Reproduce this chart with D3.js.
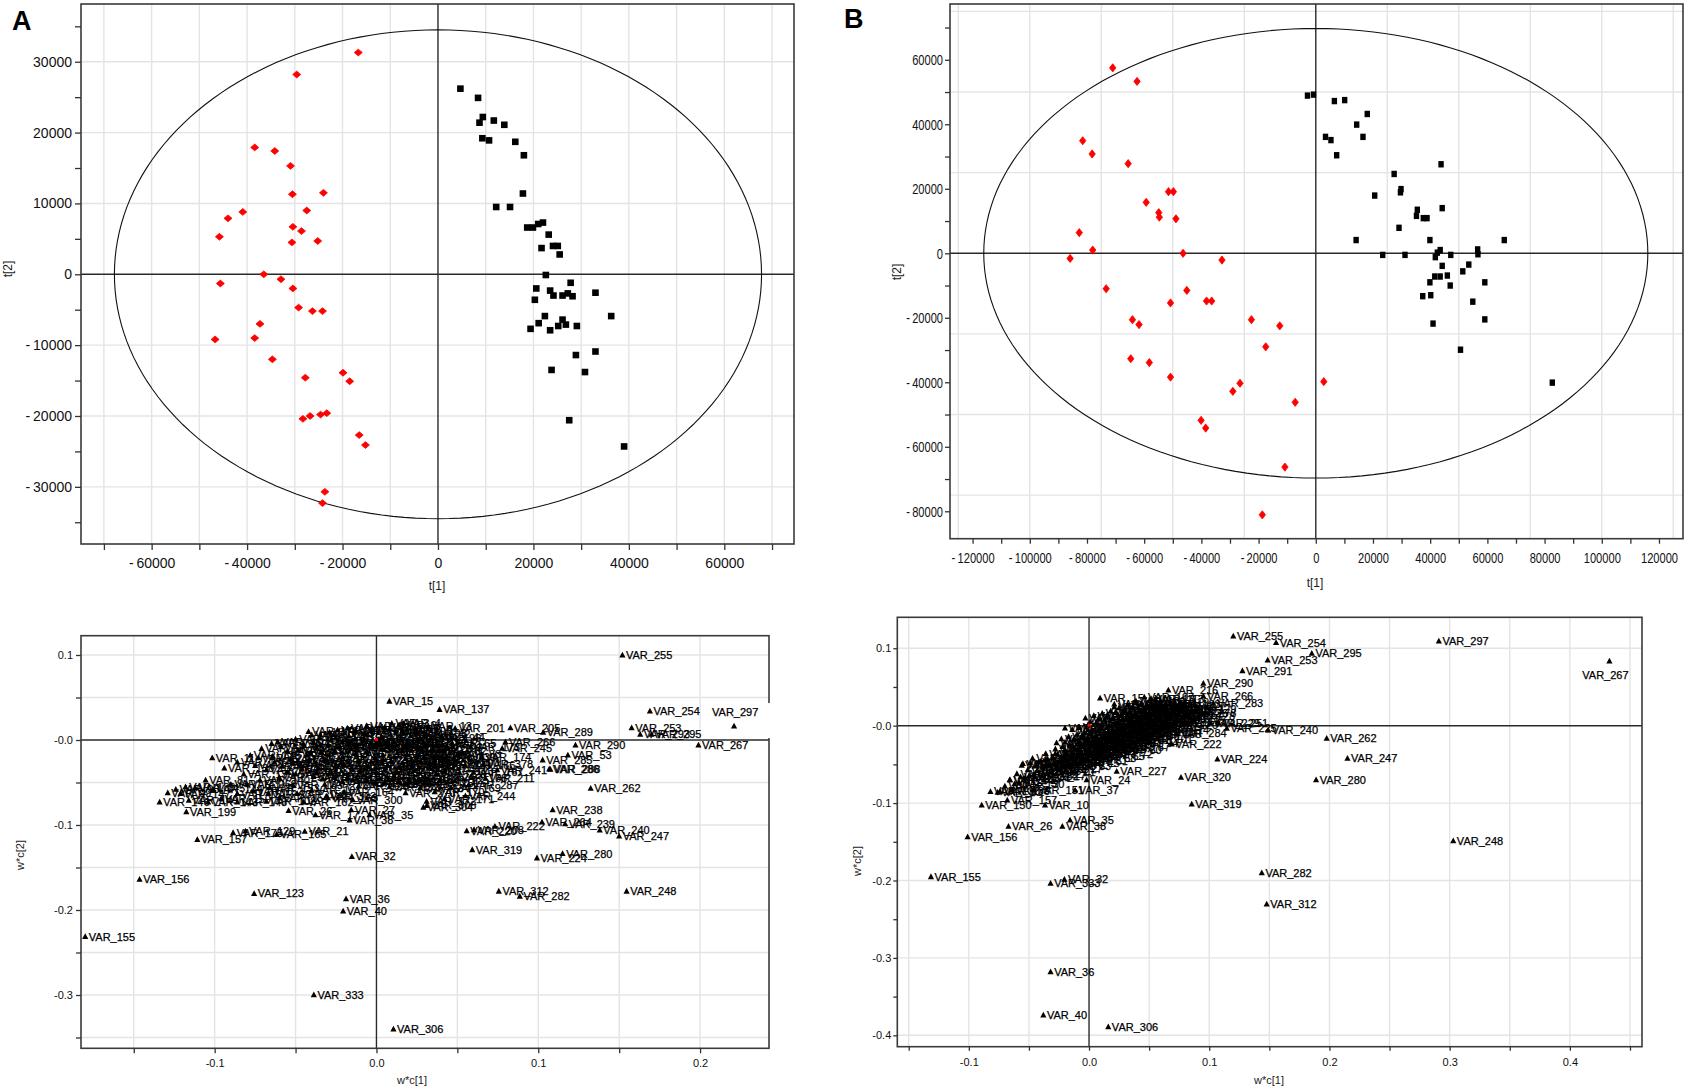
<!DOCTYPE html>
<html><head><meta charset="utf-8">
<script src="https://cdn.jsdelivr.net/npm/d3@7"></script>
<style>
body{margin:0;background:#fff}
svg{display:block}
text{font-family:"Liberation Sans",Arial,Helvetica,sans-serif}
</style>
</head><body>
<svg id="c" width="1687" height="1092"></svg>
<script>
// ---------------- DATA ----------------
// Panel A scores (t[1], t[2])
const scoresA_red = [[-16700,31300],[-29600,28200],[-38400,17900],[-34200,17400],[-30900,15300],[-30500,11300],[-24000,11500],[-40900,8800],[-44000,7900],[-27500,9000],[-30400,6700],[-28600,6100],[-45800,5300],[-30600,4500],[-25200,4700],[-36500,0],[-45600,-1300],[-32900,-700],[-30400,-2000],[-29200,-4700],[-26300,-5200],[-24200,-5200],[-37300,-7000],[-46700,-9200],[-38400,-9000],[-34700,-12000],[-27800,-14600],[-19900,-13900],[-18500,-15100],[-28300,-20400],[-26800,-20000],[-24600,-19800],[-23300,-19600],[-16500,-22700],[-15200,-24100],[-23700,-30700],[-24200,-32300]];
const scoresA_black = [[4700,26200],[8400,24900],[9400,22200],[8700,21400],[11700,21700],[13900,21100],[9300,19200],[10700,18900],[16200,18700],[18000,16800],[17800,11400],[12200,9500],[15100,9500],[18700,6600],[19900,6600],[21000,7100],[22000,7300],[23200,5600],[21700,3700],[24100,4000],[25100,4000],[25500,2800],[22600,-100],[27800,-1200],[20600,-2000],[23500,-2300],[33000,-2600],[20300,-3600],[24200,-3000],[26100,-3000],[27200,-2700],[28200,-3100],[36300,-5900],[22400,-5900],[26100,-6400],[21100,-6900],[25200,-7300],[26800,-7100],[29100,-7300],[19400,-7700],[23500,-7900],[33000,-10900],[28900,-11400],[23800,-13500],[30800,-13800],[27500,-20600],[39000,-24300]];
const ellipseA = [67800, 34500];
const scoresA_xTicks = [-70000,-60000,-50000,-40000,-30000,-20000,-10000,0,10000,20000,30000,40000,50000,60000,70000];
const scoresA_xLabels = [-60000,-40000,-20000,0,20000,40000,60000];
const scoresA_yTicks = [-35000,-30000,-25000,-20000,-15000,-10000,-5000,0,5000,10000,15000,20000,25000,30000,35000];
const scoresA_yLabels = [-30000,-20000,-10000,0,10000,20000,30000];
const scoresA_grid = [-70000,-60000,-50000,-40000,-30000,-20000,-10000,10000,20000,30000,40000,50000,60000,70000];

// Panel B scores
const scoresB_red = [[-71000,57500],[-62500,53300],[-81500,34900],[-78200,30800],[-65600,27800],[-51500,19100],[-49800,19100],[-59300,15800],[-54900,12600],[-54700,11200],[-48900,10700],[-82700,6400],[-78000,1000],[-85900,-1600],[-46400,0],[-32800,-2100],[-73300,-11000],[-45100,-11500],[-50800,-15400],[-38200,-14800],[-36400,-14800],[-64100,-20600],[-61800,-22100],[-22500,-20600],[-12600,-22500],[-17500,-29000],[-64700,-32700],[-58200,-33900],[-50800,-38400],[-26500,-40300],[-29000,-42800],[-7200,-46200],[-40100,-51800],[-38500,-54200],[-10800,-66300],[-18700,-81100],[2800,-39800]];
const scoresB_black = [[-2900,48900],[-800,49200],[6500,47200],[10100,47500],[18000,43200],[14300,39900],[16500,36100],[3400,36100],[5300,35100],[7300,30400],[43800,27600],[27400,24600],[29800,19900],[29600,18900],[20600,17900],[44200,14000],[35500,13500],[35200,11600],[37600,10900],[38900,10900],[29100,7900],[14100,4100],[39900,4100],[65900,4100],[23400,-500],[31200,-500],[43500,1000],[42500,200],[41800,-1200],[47200,-500],[56600,1200],[56700,-300],[53500,-3500],[44200,-3900],[51400,-5600],[41600,-7200],[43500,-7200],[46000,-6900],[39900,-9000],[47000,-10000],[59100,-9000],[37400,-13300],[40200,-13000],[54900,-15000],[59100,-20500],[41000,-21800],[50600,-29900],[82700,-40100]];
const ellipseB = [116100, 69700];
const scoresB_xTicks = [-120000,-110000,-100000,-90000,-80000,-70000,-60000,-50000,-40000,-30000,-20000,-10000,0,10000,20000,30000,40000,50000,60000,70000,80000,90000,100000,110000,120000];
const scoresB_xLabels = [-120000,-100000,-80000,-60000,-40000,-20000,0,20000,40000,60000,80000,100000,120000];
const scoresB_yTicks = [-80000,-70000,-60000,-50000,-40000,-30000,-20000,-10000,0,10000,20000,30000,40000,50000,60000,70000];
const scoresB_yLabels = [-80000,-60000,-40000,-20000,0,20000,40000,60000];
const scoresB_xGrid = [-125000,-100000,-75000,-50000,-25000,25000,50000,75000,100000,125000];
const scoresB_yGrid = [-75000,-50000,-25000,25000,50000,75000];

// Panel A loadings (w*c[1], w*c[2]) — labelled variables
const loadA_named = [["VAR_15",0.008,0.0457],["VAR_137",0.039,0.036],["VAR_3",0.0095,0.0196],["VAR_4",0.0165,0.0196],["VAR_16",-0.0346,0.006],["VAR_7",-0.0648,-0.004],["VAR_11",-0.1015,-0.021],["VAR_12",-0.073,-0.021],["VAR_81",-0.1056,-0.047],["VAR_99",-0.129,-0.062],["VAR_189",-0.118,-0.055],["VAR_90",-0.124,-0.058],["VAR_146",-0.134,-0.073],["VAR_143",-0.104,-0.073],["VAR_148",-0.086,-0.073],["VAR_108",-0.068,-0.072],["VAR_199",-0.1175,-0.0844],["VAR_157",-0.1107,-0.117],["VAR_129",-0.081,-0.107],["VAR_175",-0.0886,-0.109],["VAR_165",-0.0617,-0.111],["VAR_21",-0.0443,-0.1075],["VAR_156",-0.1464,-0.1638],["VAR_123",-0.0756,-0.1805],["VAR_155",-0.180,-0.2313],["VAR_32",-0.0152,-0.137],["VAR_36",-0.0188,-0.1868],["VAR_40",-0.0206,-0.2013],["VAR_333",-0.0387,-0.2997],["VAR_306",0.0105,-0.340],["VAR_26",-0.0543,-0.083],["VAR_17",-0.0377,-0.088],["VAR_27",-0.0156,-0.082],["VAR_35",-0.0043,-0.088],["VAR_38",-0.0166,-0.094],["VAR_300",-0.0146,-0.0703],["VAR_303",-0.031,-0.066],["VAR_23",-0.067,-0.063],["VAR_183",-0.0515,-0.053],["VAR_270",0.018,-0.062],["VAR_304",0.029,-0.079],["VAR_308",0.031,-0.077],["VAR_255",0.152,0.100],["VAR_254",0.169,0.034],["VAR_297",0.221,0.0164],["VAR_267",0.199,-0.006],["VAR_253",0.1577,0.0144],["VAR_293",0.163,0.0067],["VAR_295",0.170,0.0067],["VAR_201",0.0486,0.0137],["VAR_205",0.0828,0.0144],["VAR_289",0.103,0.009],["VAR_266",0.0797,-0.002],["VAR_245",0.0777,-0.0098],["VAR_290",0.123,-0.006],["VAR_53",0.1183,-0.0176],["VAR_285",0.1027,-0.0234],["VAR_286",0.1068,-0.034],["VAR_288",0.1075,-0.0345],["VAR_241",0.0746,-0.035],["VAR_378",0.066,-0.028],["VAR_211",0.0674,-0.045],["VAR_287",0.057,-0.0527],["VAR_244",0.055,-0.0656],["VAR_262",0.1324,-0.0567],["VAR_238",0.1089,-0.082],["VAR_264",0.1023,-0.0965],["VAR_239",0.1166,-0.0985],["VAR_240",0.138,-0.106],["VAR_247",0.150,-0.113],["VAR_222",0.0732,-0.1016],["VAR_220",0.0558,-0.1067],["VAR_208",0.0603,-0.1055],["VAR_319",0.0592,-0.129],["VAR_224",0.0992,-0.1387],["VAR_280",0.115,-0.1336],["VAR_312",0.0756,-0.1778],["VAR_282",0.0886,-0.1837],["VAR_248",0.1546,-0.1778]];
// Panel A loadings — the dense, unreadable cluster [w*c1, w*c2, var number]
const loadA_cluster = [[-0.018,0.014,1],[-0.006,0.017,2],[0.005,0.015,5],[0.014,0.018,6],[0.024,0.013,8],[0.032,0.016,13],[-0.040,0.006,17],[-0.029,0.009,20],[-0.017,0.005,23],[-0.007,0.008,24],[0.003,0.004,30],[0.012,0.009,34],[0.021,0.005,39],[0.031,0.007,42],[0.040,0.004,44],[-0.061,-0.002,46],[-0.050,0.001,49],[-0.039,-0.003,50],[-0.028,0.000,51],[-0.018,-0.004,54],[-0.008,-0.001,56],[0.002,-0.005,57],[0.011,-0.002,59],[0.020,-0.006,60],[0.029,-0.003,62],[0.038,-0.007,64],[0.047,-0.004,65],[-0.071,-0.010,67],[-0.059,-0.008,68],[-0.048,-0.012,69],[-0.037,-0.009,71],[-0.026,-0.013,73],[-0.016,-0.010,74],[-0.006,-0.014,75],[0.004,-0.011,76],[0.013,-0.015,78],[0.022,-0.012,79],[0.031,-0.016,80],[0.041,-0.013,82],[0.050,-0.017,83],[-0.064,-0.019,85],[-0.053,-0.022,86],[-0.043,-0.018,87],[-0.032,-0.023,89],[-0.021,-0.020,91],[-0.011,-0.024,92],[-0.001,-0.021,93],[0.009,-0.025,94],[0.018,-0.022,96],[0.027,-0.026,97],[0.036,-0.023,98],[0.045,-0.027,100],[-0.058,-0.031,102],[-0.047,-0.028,103],[-0.036,-0.033,104],[-0.025,-0.030,105],[-0.015,-0.034,106],[-0.005,-0.031,107],[0.005,-0.035,109],[0.014,-0.032,110],[0.023,-0.036,111],[0.033,-0.033,112],[0.042,-0.037,113],[-0.050,-0.040,114],[-0.039,-0.043,115],[-0.028,-0.039,116],[-0.018,-0.044,117],[-0.008,-0.041,119],[0.002,-0.045,120],[0.011,-0.042,121],[0.020,-0.046,122],[0.030,-0.043,124],[0.039,-0.047,125],[-0.032,-0.052,126],[-0.021,-0.049,127],[-0.011,-0.054,128],[-0.001,-0.051,130],[0.008,-0.055,132],[0.018,-0.052,133],[0.027,-0.056,134],[-0.078,-0.018,135],[-0.086,-0.026,136],[-0.094,-0.033,138],[-0.082,-0.040,139],[-0.072,-0.047,140],[-0.090,-0.052,141],[-0.101,-0.058,144],[-0.112,-0.056,145],[-0.121,-0.063,147],[-0.116,-0.071,149],[-0.096,-0.069,150],[-0.086,-0.063,151],[-0.076,-0.060,152],[-0.066,-0.056,153],[-0.060,-0.068,154],[-0.049,-0.063,159],[-0.040,-0.059,161],[-0.045,-0.073,162],[-0.030,-0.068,163],[-0.020,-0.061,164],[0.055,-0.030,166],[0.060,-0.038,167],[0.050,-0.045,168],[0.046,-0.056,169],[0.036,-0.061,170],[0.042,-0.069,171],[0.031,-0.072,172],[0.058,-0.008,173],[0.065,-0.020,174],
[-0.042,0.010,176],[-0.035,0.003,177],[-0.030,-0.006,178],[-0.024,0.012,179],[-0.021,-0.002,180],[-0.013,0.011,181],[-0.012,-0.007,182],[-0.003,0.012,184],[-0.002,-0.008,185],[0.001,0.001,186],[0.008,0.013,187],[0.007,-0.004,188],[0.016,0.011,190],[0.015,0.001,191],[0.017,-0.008,192],[0.025,0.008,193],[0.025,-0.001,194],[0.026,-0.018,195],[0.034,0.002,196],[0.035,-0.010,197],[0.036,-0.019,198],[-0.045,-0.005,200],[-0.041,-0.015,202],[-0.034,-0.014,203],[-0.030,-0.027,204],[-0.023,-0.008,206],[-0.020,-0.029,207],[-0.013,-0.016,209],[-0.010,-0.036,210],[-0.004,-0.005,212],[-0.003,-0.026,213],[0.000,-0.038,214],[0.004,-0.018,215],[0.007,-0.030,216],[0.010,-0.009,217],[0.013,-0.038,218],[0.016,-0.027,219],[0.019,-0.017,221],[0.022,-0.031,223],[0.028,-0.011,225],[0.029,-0.021,226],[0.033,-0.028,227],[0.037,-0.040,228],[0.040,-0.030,229],[0.043,-0.020,230],[-0.055,-0.013,231],[-0.052,-0.027,232],[-0.046,-0.034,233],[-0.042,-0.024,234],[-0.037,-0.038,235],[-0.033,-0.046,236],[-0.026,-0.044,237],[-0.015,-0.047,242],[-0.006,-0.048,243],[0.005,-0.050,246],[0.014,-0.048,249],[0.024,-0.050,250],[0.033,-0.051,251],[-0.063,-0.026,252],[-0.068,-0.035,256],[-0.060,-0.044,257],[-0.055,-0.038,258],[-0.075,-0.030,259],[-0.080,-0.052,260]];
const loadA_xTicks = [-0.15,-0.1,-0.05,0,0.05,0.1,0.15,0.2];
const loadA_xLabels = [-0.1,0,0.1,0.2];
const loadA_yTicks = [-0.35,-0.3,-0.25,-0.2,-0.15,-0.1,-0.05,0,0.05,0.1];
const loadA_yLabels = [-0.3,-0.2,-0.1,0,0.1];
const loadA_xGrid = [-0.15,-0.1,-0.05,0.05,0.1,0.15,0.2];
const loadA_yGrid = [-0.35,-0.3,-0.25,-0.2,-0.15,-0.1,-0.05,0.05,0.1];

// Panel B loadings — labelled variables
const loadB_named = [["VAR_255",0.120,0.1159],["VAR_254",0.1556,0.1073],["VAR_295",0.1853,0.0935],["VAR_253",0.1486,0.0849],["VAR_291",0.1276,0.0711],["VAR_297",0.291,0.1094],["VAR_267",0.4329,0.0836],["VAR_290",0.0951,0.0548],["VAR_216",0.066,0.046],["VAR_266",0.0951,0.0384],["VAR_283",0.1034,0.029],["VAR_278",0.081,0.016],["VAR_229",0.1007,0.004],["VAR_251",0.1076,0.004],["VAR_225",0.1146,-0.0034],["VAR_240",0.149,-0.0056],["VAR_284",0.073,-0.010],["VAR_222",0.0688,-0.0237],["VAR_224",0.1068,-0.043],["VAR_320",0.0765,-0.0667],["VAR_319",0.0854,-0.1012],["VAR_227",0.023,-0.059],["VAR_24",-0.002,-0.070],["VAR_37",-0.0116,-0.083],["VAR_151",-0.0457,-0.083],["VAR_10",-0.0366,-0.1025],["VAR_150",-0.0893,-0.1025],["VAR_157",-0.068,-0.096],["VAR_136",-0.074,-0.085],["VAR_135",-0.082,-0.085],["VAR_144",-0.0657,-0.070],["VAR_148",-0.056,-0.051],["VAR_35",-0.0158,-0.1218],["VAR_38",-0.0222,-0.130],["VAR_26",-0.067,-0.130],["VAR_156",-0.101,-0.1434],["VAR_155",-0.1315,-0.195],["VAR_32",-0.0205,-0.1985],["VAR_333",-0.032,-0.2036],["VAR_36",-0.032,-0.3178],["VAR_40",-0.038,-0.3738],["VAR_306",0.016,-0.389],["VAR_262",0.1977,-0.0163],["VAR_247",0.215,-0.042],["VAR_280",0.1889,-0.070],["VAR_248",0.303,-0.1486],["VAR_282",0.1437,-0.190],["VAR_312",0.1478,-0.2304],["VAR_15",0.0092,0.0358],["VAR_8",-0.020,-0.003],["VAR_41",0.021,0.0245],["VAR_13",0.0516,0.035]];
const loadB_cluster = [[-0.076,-0.086,1],[-0.070,-0.078,2],[-0.064,-0.083,3],[-0.066,-0.070,4],[-0.058,-0.074,5],[-0.060,-0.062,6],[-0.053,-0.068,7],[-0.051,-0.057,9],[-0.055,-0.049,11],[-0.046,-0.063,12],[-0.044,-0.052,14],[-0.047,-0.042,16],[-0.039,-0.065,17],[-0.038,-0.055,18],[-0.040,-0.046,19],[-0.036,-0.036,20],[-0.031,-0.060,21],[-0.033,-0.050,22],[-0.030,-0.041,23],[-0.028,-0.030,25],[-0.025,-0.056,27],[-0.024,-0.046,28],[-0.026,-0.037,29],[-0.022,-0.027,30],[-0.023,-0.017,31],[-0.018,-0.052,33],[-0.017,-0.043,34],[-0.019,-0.034,39],[-0.016,-0.025,42],[-0.017,-0.014,43],[-0.014,-0.005,44],[-0.011,-0.048,45],[-0.010,-0.039,46],[-0.012,-0.030,47],[-0.009,-0.021,48],[-0.010,-0.011,49],[-0.008,-0.002,50],[-0.004,-0.045,51],[-0.003,-0.036,52],[-0.005,-0.027,53],[-0.002,-0.018,54],[-0.004,-0.009,55],[-0.001,0.001,56],[-0.003,0.010,57],[0.003,-0.042,58],[0.004,-0.033,59],[0.002,-0.024,60],[0.005,-0.015,61],[0.003,-0.006,62],[0.006,0.004,63],[0.004,0.013,64],[0.010,-0.039,65],[0.011,-0.030,66],[0.009,-0.021,67],[0.012,-0.012,68],[0.010,-0.003,69],[0.013,0.007,70],[0.011,0.016,71],[0.017,-0.036,72],[0.018,-0.027,73],[0.016,-0.018,74],[0.019,-0.009,75],[0.017,0.000,76],[0.020,0.010,77],[0.018,0.019,78],[0.021,0.028,79],[0.024,-0.032,80],[0.025,-0.023,81],[0.023,-0.014,82],[0.026,-0.005,83],[0.024,0.004,84],[0.027,0.014,85],[0.025,0.023,86],[0.031,-0.027,87],[0.032,-0.018,88],[0.030,-0.009,89],[0.033,0.000,90],[0.031,0.009,91],[0.034,0.018,92],[0.032,0.027,93],[0.038,-0.022,94],[0.039,-0.013,95],[0.037,-0.004,96],[0.040,0.005,97],[0.038,0.014,98],[0.041,0.023,99],[0.039,0.032,100],[0.045,-0.017,101],[0.046,-0.008,102],[0.044,0.001,103],[0.047,0.010,104],[0.045,0.019,105],[0.048,0.028,106],[0.046,0.037,107],[0.052,-0.011,108],[0.053,-0.002,109],[0.051,0.007,110],[0.054,0.016,111],[0.052,0.025,112],[0.055,0.034,113],[0.059,-0.005,114],[0.060,0.004,116],[0.058,0.013,117],[0.061,0.022,118],[0.059,0.031,119],[0.066,0.001,120],[0.067,0.010,121],[0.065,0.019,122],[0.068,0.028,123],[0.073,0.007,125],[0.074,0.016,126],[0.072,0.025,127],[0.080,0.013,128],[0.081,0.022,129],
[-0.062,-0.075,130],[-0.057,-0.066,131],[-0.050,-0.065,132],[-0.049,-0.048,133],[-0.043,-0.058,134],[-0.042,-0.047,137],[-0.036,-0.052,138],[-0.035,-0.043,139],[-0.029,-0.049,140],[-0.028,-0.036,141],[-0.027,-0.022,142],[-0.021,-0.041,143],[-0.020,-0.031,145],[-0.020,-0.021,146],[-0.014,-0.037,147],[-0.013,-0.028,149],[-0.013,-0.018,150],[-0.007,-0.033,152],[-0.006,-0.024,153],[-0.006,-0.013,154],[0.000,-0.030,158],[0.000,-0.020,159],[0.001,-0.010,160],[0.001,0.005,161],[0.007,-0.026,162],[0.007,-0.017,163],[0.008,-0.007,164],[0.008,0.009,165],[0.014,-0.022,166],[0.014,-0.012,167],[0.015,-0.002,168],[0.015,0.013,169],[0.021,-0.018,170],[0.021,-0.008,171],[0.022,0.002,172],[0.022,0.017,173],[0.028,-0.014,174],[0.028,-0.003,175],[0.029,0.008,176],[0.029,0.020,177],[0.035,-0.008,178],[0.035,0.003,179],[0.036,0.013,180],[0.036,0.024,181],[0.042,-0.003,182],[0.042,0.008,183],[0.043,0.018,184],[0.043,0.028,185],[0.049,0.003,186],[0.049,0.014,187],[0.050,0.023,188],[0.056,0.008,189],[0.056,0.020,190],[0.063,0.014,191],[0.063,0.025,192],[0.070,0.020,193]];
const loadB_xTicks = [-0.15,-0.1,-0.05,0,0.05,0.1,0.15,0.2,0.25,0.3,0.35,0.4,0.45];
const loadB_xLabels = [-0.1,0,0.1,0.2,0.3,0.4];
const loadB_yTicks = [-0.4,-0.35,-0.3,-0.25,-0.2,-0.15,-0.1,-0.05,0,0.05,0.1];
const loadB_yLabels = [-0.4,-0.3,-0.2,-0.1,0,0.1];
const loadB_xGrid = [-0.15,-0.1,-0.05,0.05,0.1,0.15,0.2,0.25,0.3,0.35,0.4,0.45];
const loadB_yGrid = [-0.4,-0.3,-0.2,-0.1,0.1];

// ---------------- DRAWING ----------------
const svg = d3.select("#c");
const has = (arr, d) => arr.some(v => Math.abs(v - d) < 1e-9);
const fmtScore = d => d === 0 ? "0" : (d < 0 ? "-\u2009" + (-d) : String(d));
const fmtLoadX = d => Math.abs(d) < 1e-9 ? "0.0" : (d < 0 ? "-" : "") + Math.abs(d).toFixed(1);
const fmtLoadY = d => Math.abs(d) < 1e-9 ? "-0.0" : (d < 0 ? "-" : "") + Math.abs(d).toFixed(1);

function panel(c) {
  const x = d3.scaleLinear().domain(c.xd).range([c.l, c.r]);
  const y = d3.scaleLinear().domain(c.yd).range([c.b, c.t]);
  const g = svg.append("g");
  g.append("g").selectAll("line").data(c.xGrid).join("line")
    .attr("x1", d => x(d)).attr("x2", d => x(d)).attr("y1", c.t).attr("y2", c.b)
    .attr("stroke", "#e4e4e4").attr("stroke-width", 1.4);
  g.append("g").selectAll("line").data(c.yGrid).join("line")
    .attr("y1", d => y(d)).attr("y2", d => y(d)).attr("x1", c.l).attr("x2", c.r)
    .attr("stroke", "#e4e4e4").attr("stroke-width", 1.4);
  g.append("line").attr("x1", c.l).attr("x2", c.r).attr("y1", y(0)).attr("y2", y(0))
    .attr("stroke", "#2a2a2a").attr("stroke-width", 1.4);
  g.append("line").attr("y1", c.t).attr("y2", c.b).attr("x1", x(0)).attr("x2", x(0))
    .attr("stroke", "#2a2a2a").attr("stroke-width", 1.4);
  return {x, y, g, c};
}

function frameAxes(p) {
  const c = p.c, g = p.g;
  g.append("rect").attr("x", c.l).attr("y", c.t).attr("width", c.r - c.l).attr("height", c.b - c.t)
    .attr("fill", "none").attr("stroke", "#3a3a3a").attr("stroke-width", 1.6);
  const ax = g.append("g").attr("transform", `translate(0,${c.b})`)
    .call(d3.axisBottom(p.x).tickValues(c.xTicks).tickSize(c.tick).tickPadding(c.xPad)
      .tickFormat(d => has(c.xLabels, d) ? c.fx(d) : ""));
  const ay = g.append("g").attr("transform", `translate(${c.l},0)`)
    .call(d3.axisLeft(p.y).tickValues(c.yTicks).tickSize(c.tick).tickPadding(c.yPad)
      .tickFormat(d => has(c.yLabels, d) ? c.fy(d) : ""));
  [ax, ay].forEach(a => {
    a.select(".domain").remove();
    a.selectAll(".tick line").attr("stroke", "#333").attr("stroke-width", 1.3);
    a.selectAll("text").attr("font-size", c.fs).attr("fill", "#111")
      .attr("font-family", '"Liberation Sans",Arial,sans-serif');
    if (c.squeeze) {
      a.selectAll("text").each(function () {
        const w = this.getComputedTextLength();
        if (w > 0) d3.select(this).attr("textLength", w * c.squeeze).attr("lengthAdjust", "spacingAndGlyphs");
      });
    }
  });
}

function ellipse(p, radii) {
  const ang = d3.range(0, 361, 2).map(a => a * Math.PI / 180);
  p.g.append("path")
    .attr("d", d3.line().x(a => p.x(radii[0] * Math.cos(a))).y(a => p.y(radii[1] * Math.sin(a)))(ang))
    .attr("fill", "none").attr("stroke", "#111").attr("stroke-width", 1.1);
}

function diamonds(p, data, w, h) {
  p.g.append("g").selectAll("path").data(data).join("path")
    .attr("d", `M0,${-h}L${w},0L0,${h}L${-w},0Z`)
    .attr("transform", d => `translate(${p.x(d[0])},${p.y(d[1])})`)
    .attr("fill", "#ff0000").attr("stroke", "#ff0000").attr("stroke-width", 0.8).attr("stroke-linejoin", "round");
}
function squares(p, data, w, h) {
  p.g.append("g").selectAll("rect").data(data).join("rect")
    .attr("x", d => p.x(d[0]) - w / 2).attr("y", d => p.y(d[1]) - h / 2)
    .attr("width", w).attr("height", h).attr("fill", "#000");
}

const TRI = "M0,-3.3L3.1,2.5L-3.1,2.5Z";
function label(gg, x, y, txt, anchor) {
  return gg.append("text").attr("x", x).attr("y", y).attr("font-size", 11).attr("fill", "#000")
    .attr("stroke", "#000").attr("stroke-width", 0.25).attr("text-anchor", anchor || "start").text(txt);
}
function loadPoints(p, named, cluster, special) {
  const gg = p.g.append("g");
  const all = cluster.map(d => ["VAR_" + d[2], d[0], d[1]]).concat(named);
  all.forEach(d => {
    if (special[d[0]]) return;
    const px = p.x(d[1]), py = p.y(d[2]);
    gg.append("path").attr("d", TRI).attr("transform", `translate(${px},${py})`).attr("fill", "#000");
    label(gg, px + 3.6, py + 4, d[0]);
  });
  // small red marker at the origin
  gg.append("rect").attr("x", p.x(0) - 1.5).attr("y", p.y(0) - 2).attr("width", 3).attr("height", 3).attr("fill", "#ff0000");
  named.forEach(d => { if (special[d[0]]) special[d[0]](gg, p.x(d[1]), p.y(d[2]), d[0]); });
}

function title(txt, x, y, rot, fs) {
  const t = svg.append("text").attr("font-size", fs).attr("fill", "#1a1a1a").attr("text-anchor", "middle").text(txt);
  if (rot) t.attr("transform", `translate(${x},${y}) rotate(-90)`); else t.attr("x", x).attr("y", y);
}

// ---- Panel A scores
const pA = panel({l: 81, t: 4, r: 794, b: 544, xd: [-74800, 74600], yd: [-38070, 38150],
  xGrid: scoresA_grid, yGrid: scoresA_grid.filter(v => Math.abs(v) < 38000),
  xTicks: scoresA_xTicks, xLabels: scoresA_xLabels, yTicks: scoresA_yTicks, yLabels: scoresA_yLabels,
  fx: fmtScore, fy: fmtScore, tick: 6, xPad: 8, yPad: 3, fs: 14});
ellipse(pA, ellipseA);
diamonds(pA, scoresA_red, 4.0, 3.4);
squares(pA, scoresA_black, 6.6, 6.6);
frameAxes(pA);
title("t[1]", 437, 590, false, 12);
title("t[2]", 12, 269, true, 12);

// ---- Panel B scores
const pB = panel({l: 950, t: 4, r: 1683, b: 538.7, xd: [-127900, 128400], yd: [-88500, 77300],
  xGrid: scoresB_xGrid, yGrid: scoresB_yGrid,
  xTicks: scoresB_xTicks, xLabels: scoresB_xLabels, yTicks: scoresB_yTicks, yLabels: scoresB_yLabels,
  fx: fmtScore, fy: fmtScore, tick: 5, xPad: 9, yPad: 2, fs: 15, squeeze: 0.74});
ellipse(pB, ellipseB);
diamonds(pB, scoresB_red, 3.2, 4.1);
squares(pB, scoresB_black, 5.4, 6.4);
frameAxes(pB);
title("t[1]", 1315, 587, false, 12);
title("t[2]", 901, 272, true, 12);

// ---- Panel A loadings
const lA = panel({l: 81, t: 635.7, r: 769, b: 1048.3, xd: [-0.1826, 0.2426], yd: [-0.3627, 0.1227],
  xGrid: loadA_xGrid, yGrid: loadA_yGrid,
  xTicks: loadA_xTicks, xLabels: loadA_xLabels, yTicks: loadA_yTicks, yLabels: loadA_yLabels,
  fx: fmtLoadX, fy: fmtLoadY, tick: 5, xPad: 6, yPad: 3, fs: 11});
frameAxes(lA);
loadPoints(lA, loadA_named, loadA_cluster, {
  "VAR_297": (gg, px, py, name) => {
    gg.append("rect").attr("x", px - 26).attr("y", py - 23).attr("width", 66).attr("height", 35).attr("fill", "#fff");
    gg.append("path").attr("d", TRI).attr("transform", `translate(${px},${py})`).attr("fill", "#000");
    label(gg, px - 22, py - 10, name);
  }
});
title("w*c[1]", 412, 1084, false, 11);
title("w*c[2]", 24, 855, true, 11);

// ---- Panel B loadings
const lB = panel({l: 897.3, t: 617.3, r: 1642, b: 1046.7, xd: [-0.1595, 0.460], yd: [-0.4147, 0.140],
  xGrid: loadB_xGrid, yGrid: loadB_yGrid,
  xTicks: loadB_xTicks, xLabels: loadB_xLabels, yTicks: loadB_yTicks, yLabels: loadB_yLabels,
  fx: fmtLoadX, fy: fmtLoadY, tick: 4, xPad: 8, yPad: 2, fs: 11});
frameAxes(lB);
loadPoints(lB, loadB_named, loadB_cluster, {
  "VAR_267": (gg, px, py, name) => {
    gg.append("path").attr("d", TRI).attr("transform", `translate(${px},${py})`).attr("fill", "#000");
    label(gg, px - 4, py + 18, name, "middle");
  }
});
title("w*c[1]", 1269, 1084, false, 11);
title("w*c[2]", 861, 861, true, 11);

// ---- panel letters
svg.append("text").attr("x", 12).attr("y", 30).attr("font-size", 27).attr("font-weight", "bold").attr("fill", "#000").text("A");
svg.append("text").attr("x", 844).attr("y", 28).attr("font-size", 27).attr("font-weight", "bold").attr("fill", "#000").text("B");
</script>
</body></html>
